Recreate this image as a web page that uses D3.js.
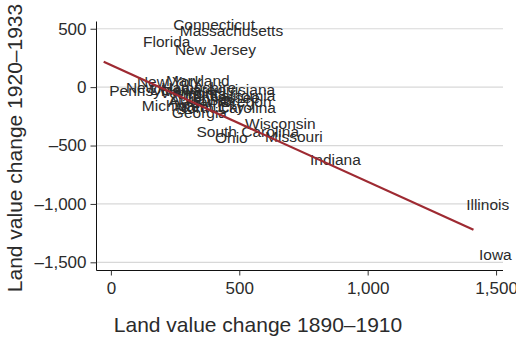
<!DOCTYPE html>
<html>
<head>
<meta charset="utf-8">
<script src="https://cdn.jsdelivr.net/npm/d3@7"></script>
<style>
  html, body { margin: 0; padding: 0; background: #fff; }
  svg { display: block; font-family: "Liberation Sans", Arial, Helvetica, sans-serif; }
</style>
</head>
<body>
<svg id="chart" width="516" height="339"></svg>
<script>
// State land value changes (dollars per acre): 1890–1910 boom vs 1920–1933 bust
const states = ["Connecticut", "Massachusetts", "Florida", "New Jersey", "Pennsylvania",
  "New York", "Maryland", "New Hampshire", "Delaware", "Vermont", "Louisiana", "Virginia",
  "California", "Tennessee", "Oregon", "Alabama", "Arkansas", "Michigan", "Kentucky",
  "North Carolina", "Georgia", "Wisconsin", "South Carolina", "Ohio", "Missouri",
  "Indiana", "Illinois", "Iowa"];
const change1890 = [221, 247, 104, 228, -28, 80, 193, 37, 131, 169, 360, 228,
  364, 267, 403, 201, 208, 99, 251, 232, 216, 501, 312, 384, 579, 754, 1362, 1412];
const change1920 = [533, 485, 390, 325, -32, 45, 54, -6, -23, -49, -23, -57,
  -74, -92, -126, -126, -109, -160, -169, -172, -220, -308, -380, -428, -423, -622, -1008, -1436];

const xTicks = [0, 500, 1000, 1500];
const xTickLabels = ["0", "500", "1,000", "1,500"];
const yTicks = [500, 0, -500, -1000, -1500];
const yTickLabels = ["500", "0", "\u2013500", "\u20131,000", "\u20131,500"];

const svg = d3.select("#chart");
const plot = { left: 96.5, right: 503, top: 21.5, bottom: 270.5 };

const x = d3.scaleLinear().domain([-56, 1527]).range([plot.left, plot.right]);
const y = d3.scaleLinear().domain([562, -1570]).range([plot.top, plot.bottom]);

const textColor = "#2b2b2b";

// horizontal grid lines
svg.append("g")
  .selectAll("line")
  .data(yTicks)
  .join("line")
  .attr("x1", plot.left).attr("x2", plot.right)
  .attr("y1", d => y(d)).attr("y2", d => y(d))
  .attr("stroke", "#d8d8d8").attr("stroke-width", 1.2);

// y axis
const yAxis = d3.axisLeft(y).tickValues(yTicks)
  .tickFormat((d, i) => yTickLabels[i]).tickSize(6).tickPadding(4);
const gy = svg.append("g").attr("transform", `translate(${plot.left},0)`).call(yAxis);
gy.select(".domain").attr("d", `M0,${plot.top}V${plot.bottom}`).attr("stroke", "#111");
gy.selectAll(".tick line").attr("stroke", "#333");
gy.selectAll(".tick text").attr("fill", textColor).style("font-size", "17px")
  .style("font-family", "'Liberation Sans', Arial, sans-serif");

// x axis
const xAxis = d3.axisBottom(x).tickValues(xTicks)
  .tickFormat((d, i) => xTickLabels[i]).tickSize(5).tickPadding(6);
const gx = svg.append("g").attr("transform", `translate(0,${plot.bottom})`).call(xAxis);
gx.select(".domain").attr("d", `M${plot.left},0H${plot.right}`).attr("stroke", "#111");
gx.selectAll(".tick line").attr("stroke", "#333");
gx.selectAll(".tick text").attr("fill", textColor).style("font-size", "17px")
  .style("font-family", "'Liberation Sans', Arial, sans-serif");

// least-squares fit over the observed x range
const pts = states.map((s, i) => ({ name: s, vx: change1890[i], vy: change1920[i] }));
const mx = d3.mean(pts, d => d.vx), my = d3.mean(pts, d => d.vy);
const sxy = d3.sum(pts, d => (d.vx - mx) * (d.vy - my));
const sxx = d3.sum(pts, d => (d.vx - mx) ** 2);
const slope = sxy / sxx, intercept = my - slope * mx;
const [xmin, xmax] = d3.extent(pts, d => d.vx);

// state name labels placed to the right of each observation
svg.append("g")
  .selectAll("text")
  .data(pts)
  .join("text")
  .attr("x", d => x(d.vx) + 5.5)
  .attr("y", d => y(d.vy))
  .attr("dy", "0.35em")
  .attr("fill", textColor)
  .style("font-size", "15.5px")
  .text(d => d.name);

// fitted line
svg.append("line")
  .attr("x1", x(xmin)).attr("y1", y(intercept + slope * xmin))
  .attr("x2", x(xmax)).attr("y2", y(intercept + slope * xmax))
  .attr("stroke", "#9e2a32").attr("stroke-width", 2.2);

// axis titles
svg.append("text")
  .attr("x", 258).attr("y", 332)
  .attr("text-anchor", "middle")
  .attr("fill", textColor)
  .style("font-size", "21px")
  .text("Land value change 1890\u20131910");

svg.append("text")
  .attr("transform", "translate(22,148) rotate(-90)")
  .attr("text-anchor", "middle")
  .attr("fill", textColor)
  .style("font-size", "21px")
  .text("Land value change 1920\u20131933");
</script>
</body>
</html>
